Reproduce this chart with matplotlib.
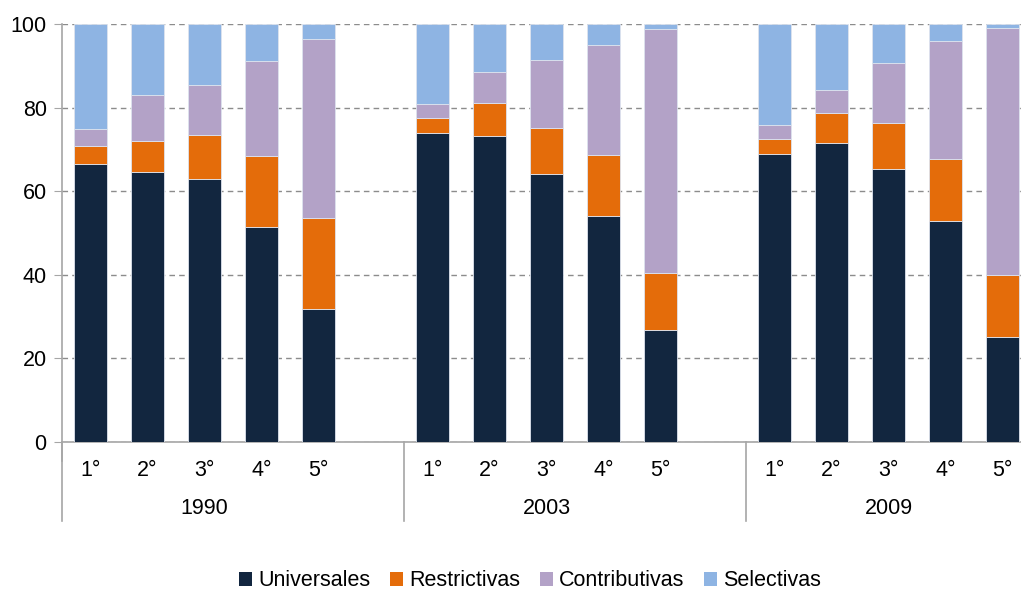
import numpy as np
import matplotlib
matplotlib.use("Agg")
import matplotlib.pyplot as plt
from matplotlib.patches import Patch

plt.rcParams['font.family'] = ['Liberation Sans', 'DejaVu Sans']

# data
years = ["1990", "2003", "2009"]
quintiles = ["1°", "2°", "3°", "4°", "5°"]
series_names = ["Universales", "Restrictivas", "Contributivas", "Selectivas"]
colors = ["#12263f", "#e46c0a", "#b3a2c7", "#8eb4e3"]

universales = [66.6, 64.7, 63.0, 51.4, 31.8,
               74.0, 73.3, 64.2, 54.0, 26.7,
               68.8, 71.6, 65.2, 52.9, 25.2]
restrictivas = [4.3, 7.4, 10.5, 17.1, 21.9,
                3.6, 7.8, 10.9, 14.7, 13.7,
                3.8, 7.0, 11.2, 14.7, 14.8]
contributivas = [3.9, 10.9, 11.8, 22.6, 42.8,
                 3.2, 7.4, 16.4, 26.2, 58.3,
                 3.2, 5.5, 14.2, 28.3, 59.1]
selectivas = [25.2, 17.0, 14.7, 8.9, 3.5,
              19.2, 11.5, 8.5, 5.1, 1.3,
              24.2, 15.9, 9.4, 4.1, 0.9]

FS = 15.5

fig = plt.figure(figsize=(10.21, 5.94), dpi=100)
W, H = 1021, 594
ax = fig.add_axes([62 / W, (H - 442) / H, (W - 62) / W, (442 - 24) / H])

# positions: 5 bars per year, one empty slot between years
xpos = []
for g in range(len(years)):
    for q in range(len(quintiles)):
        xpos.append(g * 6 + q)
xpos = np.array(xpos)

bottom = np.zeros(len(xpos))
for vals, name, c in zip([universales, restrictivas, contributivas, selectivas], series_names, colors):
    ax.bar(xpos, vals, width=0.58, bottom=bottom, color=c, edgecolor="#dde3ee",
           linewidth=0.6, label=name, zorder=3)
    bottom += np.array(vals)

ax.set_ylim(0, 100)
ax.set_xlim(-0.5, -0.5 + (W - 62) / 57)
ax.set_yticks([0, 20, 40, 60, 80, 100])
ax.yaxis.grid(True, linestyle=(0, (4, 3)), color="#8c8c8c", linewidth=1)
ax.set_axisbelow(True)
for s in ["top", "right"]:
    ax.spines[s].set_visible(False)
ax.spines["left"].set_color("#a6a6a6")
ax.spines["bottom"].set_color("#a6a6a6")
ax.spines["left"].set_linewidth(1.2)
ax.spines["bottom"].set_linewidth(1.2)
ax.tick_params(axis="y", length=6, color="#a6a6a6", labelsize=FS, pad=5)
ax.set_xticks(xpos)
ax.set_xticklabels(quintiles * len(years), fontsize=FS)
ax.tick_params(axis="x", length=0, pad=13)

# group labels and separators below axis
trans = ax.get_xaxis_transform()
for g, yr in enumerate(years):
    ax.text(g * 6 + 2, -0.16, yr, transform=trans, ha="center", va="center", fontsize=FS)
for g in range(len(years)):
    xs = g * 6 - 0.5
    ax.plot([xs, xs], [0, -0.19], transform=trans, color="#a6a6a6", lw=1.2, clip_on=False)
ax.plot([-0.5, -0.5], [0, -0.045], transform=trans, color="#a6a6a6", lw=1.2, clip_on=False)

handles = [Patch(facecolor=c, label=n) for n, c in zip(series_names, colors)]
fig.legend(handles=handles, loc="center", bbox_to_anchor=(530 / W, (H - 581) / H), ncol=4,
           frameon=False, fontsize=FS, handlelength=0.6, handleheight=0.6,
           handletextpad=0.3, columnspacing=0.9, borderpad=0.2)

fig.savefig("out.png", dpi=100)
